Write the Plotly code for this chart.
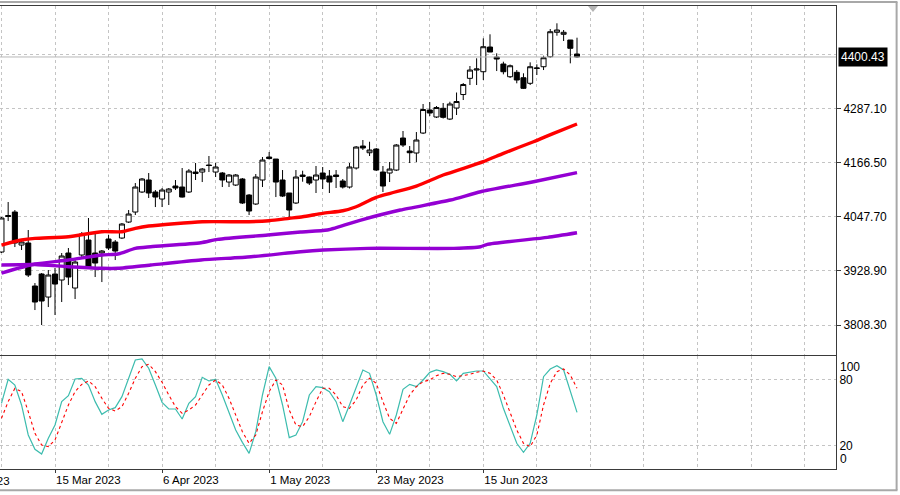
import plotly.graph_objects as go

# ---------------- data ----------------
opens = [3969.8, 4050.4, 4058.1, 3985.2, 3989.7, 3894.7, 3921.2, 3870.4, 3921.2, 3908.0,
         3967.6, 3890.3, 3963.2, 3996.3, 3967.6, 3967.6, 3998.5, 3991.9, 4000.7, 4036.0,
         4058.1, 4102.3, 4128.8, 4102.3, 4086.8, 4102.3, 4115.5, 4113.3, 4102.3, 4146.4,
         4146.4, 4161.9, 4146.4, 4144.2, 4124.3, 4117.7, 4131.0, 4095.6, 4075.8, 4128.8,
         4179.5, 4175.1, 4128.8, 4100.1, 4078.0, 4136.5, 4135.4, 4128.8, 4144.2, 4137.6,
         4139.8, 4126.6, 4113.3, 4155.3, 4203.8, 4189.0, 4197.2, 4146.4, 4144.2, 4150.8,
         4221.5, 4192.8, 4188.4, 4232.5, 4283.3, 4267.9, 4287.1, 4263.4, 4287.7, 4317.5,
         4353.3, 4371.6, 4367.9, 4422.4, 4400.3, 4384.9, 4356.8, 4366.6, 4354.6, 4342.3,
         4375.0, 4378.9, 4401.0, 4454.9, 4450.5, 4437.9, 4407.0]
highs = [4047.1, 4080.2, 4062.5, 3996.3, 4018.4, 3901.3, 3923.4, 3930.0, 3934.5, 3967.6,
         3978.6, 3956.5, 4013.9, 4044.9, 4011.7, 3974.2, 4007.3, 3996.3, 4033.8, 4062.5,
         4122.1, 4133.2, 4144.2, 4106.7, 4111.1, 4111.1, 4128.8, 4155.3, 4153.0, 4166.3,
         4155.3, 4181.8, 4166.3, 4146.4, 4142.0, 4142.0, 4133.2, 4097.8, 4142.0, 4179.5,
         4190.6, 4175.1, 4150.8, 4100.1, 4150.8, 4149.3, 4136.5, 4159.7, 4157.5, 4150.8,
         4150.8, 4131.0, 4166.3, 4203.8, 4217.1, 4213.3, 4199.4, 4159.7, 4168.5, 4208.2,
         4237.0, 4203.8, 4234.7, 4296.6, 4301.0, 4292.2, 4298.8, 4301.6, 4322.0, 4342.9,
         4380.5, 4397.5, 4441.6, 4450.5, 4408.5, 4390.0, 4383.8, 4371.6, 4364.4, 4388.6,
         4384.2, 4403.2, 4462.2, 4474.8, 4460.0, 4437.9, 4443.0]
lows = [3967.6, 4038.2, 3980.8, 3974.2, 3914.6, 3841.7, 3808.6, 3848.3, 3830.7, 3859.4,
        3896.9, 3866.0, 3958.7, 3934.5, 3914.6, 3903.5, 3974.2, 3952.1, 3998.5, 4033.8,
        4051.5, 4100.1, 4089.0, 4069.1, 4069.1, 4073.6, 4106.7, 4090.1, 4100.1, 4128.8,
        4124.3, 4146.4, 4135.4, 4113.3, 4113.3, 4115.5, 4075.8, 4051.5, 4073.6, 4113.3,
        4174.0, 4091.2, 4091.2, 4047.1, 4075.8, 4125.0, 4117.7, 4100.1, 4108.9, 4100.1,
        4111.1, 4110.0, 4110.0, 4151.9, 4195.0, 4181.8, 4148.6, 4102.3, 4124.3, 4148.6,
        4201.6, 4166.3, 4168.5, 4230.3, 4270.1, 4265.7, 4264.6, 4261.2, 4272.3, 4305.4,
        4338.5, 4338.5, 4349.6, 4411.4, 4369.4, 4362.1, 4354.0, 4342.3, 4329.7, 4338.5,
        4360.6, 4371.6, 4398.8, 4447.4, 4435.7, 4386.4, 4398.8]
closes = [4044.9, 4048.2, 3989.7, 3991.9, 3919.0, 3859.4, 3861.6, 3919.0, 3899.1, 3961.0,
          3914.6, 3947.7, 4009.5, 3936.7, 3945.5, 3972.0, 3978.6, 3972.0, 4031.6, 4053.7,
          4113.3, 4131.0, 4100.1, 4091.2, 4106.7, 4108.9, 4111.1, 4091.2, 4148.6, 4143.1,
          4153.0, 4160.8, 4157.5, 4128.8, 4139.8, 4139.8, 4078.0, 4060.3, 4135.4, 4172.9,
          4176.2, 4124.3, 4093.4, 4062.5, 4135.4, 4139.8, 4122.1, 4139.8, 4131.0, 4124.3,
          4136.5, 4113.3, 4157.5, 4201.6, 4199.4, 4195.0, 4150.8, 4115.5, 4153.0, 4206.0,
          4206.0, 4189.0, 4217.1, 4284.4, 4276.7, 4288.8, 4267.2, 4296.6, 4302.1, 4339.6,
          4371.6, 4373.8, 4423.1, 4411.4, 4395.9, 4367.9, 4381.1, 4349.6, 4331.2, 4378.9,
          4376.1, 4398.8, 4456.2, 4460.0, 4454.9, 4419.6, 4400.43]

# moving averages: knots (bar index, value)
ma_red_bar = [0, 3, 5, 10, 15, 18, 20, 22, 30, 37, 40, 43, 45, 48, 51, 53, 56, 62, 66, 72, 75, 79.5, 82.5, 86]
ma_red_val = [3985.2, 3996.3, 4000.0, 4003.6, 4014.6, 4014.6, 4022.1, 4027.2, 4036.7, 4036.7, 4038.9,
              4044.2, 4047.7, 4055.2, 4060.9, 4069.8, 4090.5, 4115.5, 4139.8, 4169.2, 4187.7, 4213.3,
              4231.9, 4252.4]
ma_mid_bar = [0, 5, 10, 15, 17.4, 20, 22.3, 29.8, 32.3, 39.8, 44.7, 48.7, 53.7, 59.6, 67.1, 71.6, 79.5, 86]
ma_mid_val = [3923.4, 3943.3, 3952.1, 3963.2, 3965.4, 3977.9, 3981.5, 3990.3, 3997.8, 4007.3, 4014.1,
              4018.4, 4040.4, 4062.5, 4084.6, 4102.9, 4125.0, 4144.9]
ma_slow_bar = [0, 5, 10, 15, 17.4, 22.3, 29.8, 37.3, 44.7, 48.1, 54.7, 67.6, 71.6, 72.6, 81.6, 86]
ma_slow_val = [3941.1, 3942.2, 3937.3, 3933.8, 3933.8, 3941.1, 3952.1, 3959.4, 3970.5, 3974.2, 3977.9,
               3977.9, 3981.5, 3986.8, 4002.2, 4012.4]

# stochastic oscillator
stoch_k = [58.4, 80.0, 74.9, 56.9, 29.9, 17.0, 12.8, 26.9, 38.9, 59.9,
           65.3, 80.3, 80.9, 74.9, 59.9, 48.5, 52.4, 54.5, 64.4, 80.9,
           97.4, 98.3, 90.0, 74.9, 59.3, 53.3, 53.3, 44.3, 58.4, 64.4,
           81.8, 78.5, 80.0, 65.9, 50.9, 34.4, 23.3, 13.4, 32.9, 65.9,
           91.4, 80.9, 56.9, 27.5, 29.9, 41.9, 65.9, 73.4, 72.5, 68.9,
           59.9, 41.9, 56.9, 73.4, 88.4, 85.4, 65.9, 41.9, 30.5, 47.9,
           71.0, 75.5, 73.4, 79.4, 86.3, 88.4, 86.9, 84.5, 78.5, 85.4,
           86.3, 87.5, 87.5, 80.9, 73.4, 53.9, 37.4, 22.4, 14.3, 22.4,
           47.9, 82.4, 89.3, 92.3, 88.4, 70.4, 50.3]
stoch_d = [44.9, 59.9, 71.9, 68.9, 50.9, 31.4, 20.9, 19.4, 25.4, 40.4,
           56.9, 68.9, 75.5, 78.5, 73.4, 62.9, 53.9, 51.5, 55.4, 67.4,
           80.9, 91.4, 93.5, 86.9, 77.3, 65.9, 55.4, 49.4, 52.4, 56.9,
           65.9, 74.9, 79.4, 74.9, 62.9, 47.9, 32.9, 22.4, 29.9, 50.9,
           68.9, 79.4, 74.9, 52.4, 38.9, 37.4, 46.4, 59.9, 71.9, 71.9,
           65.9, 55.4, 53.9, 61.4, 74.9, 80.9, 76.4, 59.9, 44.9, 40.4,
           52.4, 65.9, 73.4, 77.9, 79.4, 83.3, 85.4, 84.5, 82.4, 83.3,
           84.5, 86.3, 87.5, 85.4, 79.4, 65.9, 50.9, 34.4, 22.4, 19.4,
           29.9, 56.9, 76.4, 86.9, 89.3, 83.9, 71.9]

price_ticks = [3808.30, 3928.90, 4047.70, 4166.50, 4287.10]
price_grid_extra = [4406.9]
stoch_ticks = [20, 80]
date_label_bars = [8, 24, 40, 56, 72]
date_labels = ["15 Mar 2023", "6 Apr 2023", "1 May 2023", "23 May 2023", "15 Jun 2023"]
grid_bars = list(range(0, 125, 8))

bars = list(range(len(closes)))

FONT = "Liberation Sans"
GRID = "#c4c4c4"
BORDER = "#3a3a3a"

fig = go.Figure()

fig.add_trace(go.Candlestick(
    x=bars, open=opens, high=highs, low=lows, close=closes,
    increasing=dict(line=dict(color="black", width=1), fillcolor="white"),
    decreasing=dict(line=dict(color="black", width=1), fillcolor="black"),
    whiskerwidth=0, xaxis="x", yaxis="y", hoverinfo="skip", showlegend=False))

fig.add_trace(go.Scatter(x=ma_slow_bar, y=ma_slow_val, mode="lines",
                         line=dict(color="#9400D3", width=3.4, shape="spline", smoothing=0.6),
                         xaxis="x", yaxis="y", showlegend=False, hoverinfo="skip"))
fig.add_trace(go.Scatter(x=ma_mid_bar, y=ma_mid_val, mode="lines",
                         line=dict(color="#9400D3", width=3.4, shape="spline", smoothing=0.6),
                         xaxis="x", yaxis="y", showlegend=False, hoverinfo="skip"))
fig.add_trace(go.Scatter(x=ma_red_bar, y=ma_red_val, mode="lines",
                         line=dict(color="#FF0000", width=3.4, shape="spline", smoothing=0.6),
                         xaxis="x", yaxis="y", showlegend=False, hoverinfo="skip"))

fig.add_trace(go.Scatter(x=bars, y=stoch_k, mode="lines",
                         line=dict(color="#3cbcae", width=1.2),
                         xaxis="x2", yaxis="y2", showlegend=False, hoverinfo="skip"))
fig.add_trace(go.Scatter(x=bars, y=stoch_d, mode="lines",
                         line=dict(color="#FF0000", width=1.1, dash="dot"),
                         xaxis="x2", yaxis="y2", showlegend=False, hoverinfo="skip"))

xr = [-0.22, 124.7]
common_x = dict(range=xr, showline=True, linecolor=BORDER, linewidth=1, mirror=True,
                showgrid=True, gridcolor=GRID, griddash="dot", gridwidth=1, zeroline=False,
                fixedrange=True)

fig.update_layout(
    width=900, height=495,
    margin=dict(l=0, r=64, t=6, b=26),
    paper_bgcolor="white", plot_bgcolor="white",
    font=dict(family=FONT, size=11.5, color="black"),
    boxgap=0.25, boxgroupgap=0,
    xaxis=dict(**common_x, domain=[0, 1], anchor="y", tickmode="array", tickvals=grid_bars,
               showticklabels=False, ticks="", rangeslider=dict(visible=False)),
    yaxis=dict(domain=[0.2462, 1], anchor="x", side="right", range=[3742.4, 4513.0],
               tickmode="array", tickvals=price_ticks,
               ticktext=[f"{v:.2f}" for v in price_ticks],
               minor=dict(tickvals=price_grid_extra, showgrid=True, gridcolor=GRID,
                          griddash="dot", ticks=""),
               showgrid=True, gridcolor=GRID, griddash="dot", zeroline=False,
               showline=True, linecolor=BORDER, linewidth=1, mirror=False,
               ticks="outside", ticklen=4, tickcolor=BORDER, fixedrange=True,
               tickfont=dict(family=FONT, size=12, color="black")),
    xaxis2=dict(**common_x, domain=[0, 1], anchor="y2", matches="x",
                tickmode="array", tickvals=date_label_bars, ticktext=date_labels,
                ticklabelposition="outside right", ticks="outside", ticklen=3, tickcolor=BORDER,
                minor=dict(tickvals=grid_bars, showgrid=True, gridcolor=GRID, griddash="dot",
                           ticks=""),
                tickfont=dict(family=FONT, size=11.5, color="black")),
    yaxis2=dict(domain=[0, 0.2441], anchor="x2", side="right", range=[-0.7, 101],
                tickmode="array", tickvals=stoch_ticks, ticktext=[str(v) for v in stoch_ticks],
                showgrid=True, gridcolor=GRID, griddash="dot", zeroline=False,
                showline=True, linecolor=BORDER, linewidth=1, mirror=False,
                ticks="", ticklen=0, fixedrange=True,
                tickfont=dict(family=FONT, size=12, color="black")),
    hovermode=False,
)

# current price (bid) line and label
fig.add_shape(type="line", xref="x domain", yref="y", x0=0, x1=1, y0=closes[-1], y1=closes[-1],
              line=dict(color="#b8b8b8", width=1))
fig.add_annotation(xref="paper", yref="y", x=1, y=closes[-1], xanchor="left", yanchor="middle",
                   xshift=2, text=f"{closes[-1]:.2f}", showarrow=False, bgcolor="black",
                   font=dict(family=FONT, size=12, color="white"), borderpad=2)

# stochastic 100 / 0 labels
fig.add_annotation(xref="paper", yref="y2", x=1, y=100, xanchor="left", yanchor="top",
                   xshift=2, yshift=-1, text="100", showarrow=False,
                   font=dict(family=FONT, size=12, color="black"))
fig.add_annotation(xref="paper", yref="y2", x=1, y=0, xanchor="left", yanchor="bottom",
                   xshift=2, yshift=0, text="0", showarrow=False,
                   font=dict(family=FONT, size=12, color="black"))

# partial label at left edge (previous date)
fig.add_annotation(xref="paper", yref="paper", x=0, y=0, xanchor="right", yanchor="top",
                   xshift=12, yshift=-4, text="23 Feb 2023", showarrow=False,
                   font=dict(family=FONT, size=11.5, color="black"))

# chart shift marker
fig.add_shape(type="path", xref="paper", yref="paper",
              path="M 0.7033 1.0 L 0.7153 1.0 L 0.7093 0.987 Z",
              fillcolor="#b4b4b4", line=dict(width=0))

# window frame lines
fig.add_shape(type="line", xref="paper", yref="paper", x0=0, x1=1.0735, y0=1.0085, y1=1.0085,
              line=dict(color="#a8a8a8", width=2))
fig.add_shape(type="line", xref="paper", yref="paper", x0=1.0725, x1=1.0725, y0=1.0085, y1=-0.046,
              line=dict(color="#a8a8a8", width=2))
fig.add_shape(type="line", xref="paper", yref="paper", x0=0, x1=1.0735, y0=-0.046, y1=-0.046,
              line=dict(color="#a8a8a8", width=2))

fig.write_html("out.html", config={"displayModeBar": False},
               post_script="document.body.style.margin='0';document.body.style.overflow='hidden';")
